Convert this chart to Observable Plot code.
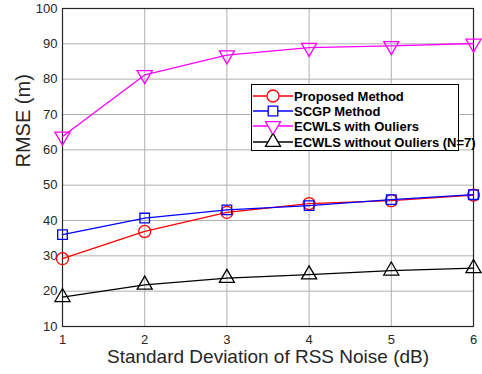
<!DOCTYPE html>
<html><head><meta charset="utf-8">
<script src="https://cdn.jsdelivr.net/npm/d3@7"></script>
<script src="https://cdn.jsdelivr.net/npm/@observablehq/plot@0.6"></script>
<style>
body{margin:0;background:#fff;}
#wrap{position:relative;width:482px;height:374px;font-family:"Liberation Sans",Arial,sans-serif;}
#legend{position:absolute;left:251px;top:84px;width:206px;height:65px;border:1px solid #000;background:#fff;padding:0;overflow:visible;}
.row{position:absolute;left:0;height:16px;display:flex;align-items:center;white-space:nowrap;}
.row span{font-weight:bold;font-size:13px;letter-spacing:0px;color:#000;margin-left:1px;white-space:nowrap;}
</style></head>
<body><div id="wrap"></div>
<script>
const xValues = [1, 2, 3, 4, 5, 6];
const yTicks = [10, 20, 30, 40, 50, 60, 70, 80, 90, 100];
const seriesNames = ["Proposed Method", "SCGP Method", "ECWLS with Ouliers", "ECWLS without Ouliers (N=7)"];
const proposed = [29.2, 36.9, 42.3, 44.8, 45.6, 47.2];
const scgp = [36.0, 40.7, 43.0, 44.2, 45.9, 47.3];
const ecwlsWith = [63.8, 81.2, 86.8, 88.9, 89.4, 90.1];
const ecwlsWithout = [18.3, 21.8, 23.7, 24.7, 25.8, 26.5];
const colors = ["#ff0000", "#0000ff", "#ff00ff", "#000000"];

const sqrt3 = Math.sqrt(3);
const triangleDown = {draw(context, size){const y = -Math.sqrt(size/(sqrt3*3)); context.moveTo(0, -y*2); context.lineTo(-sqrt3*y, y); context.lineTo(sqrt3*y, y); context.closePath();}};
const symbols = ["circle", "square", triangleDown, "triangle"];
const radii = [6, 5.4, 5.6, 5.6];

const allValues = [proposed, scgp, ecwlsWith, ecwlsWithout];
const rows = [];
allValues.forEach((vals, i) => vals.forEach((v, j) => rows.push({series: seriesNames[i], idx: i, x: xValues[j], y: v})));

const marks = [
  Plot.gridX(xValues, {stroke: "#b0b0b0", strokeOpacity: 1, strokeWidth: 1}),
  Plot.gridY(yTicks, {stroke: "#b0b0b0", strokeOpacity: 1, strokeWidth: 1}),
  Plot.frame({stroke: "#262626", strokeWidth: 1.2}),
  Plot.axisX(xValues, {tickSize: 0, tickPadding: 8, fontSize: 13, fill: "#262626", tickFormat: d => String(d), label: null}),
  Plot.axisY(yTicks, {tickSize: 0, tickPadding: 5, fontSize: 13, fill: "#262626", label: null}),
  Plot.text(["Standard Deviation of RSS Noise (dB)"], {frameAnchor: "bottom", dy: 36, fontSize: 19, fill: "#262626"}),
  Plot.text(["RMSE (m)"], {frameAnchor: "left", dx: -39, rotate: -90, fontSize: 20, fill: "#262626"})
];
seriesNames.forEach((name, i) => {
  const d = rows.filter(r => r.idx === i);
  marks.push(Plot.line(d, {x: "x", y: "y", stroke: colors[i], strokeWidth: 1.3}));
  marks.push(Plot.dot(d, {x: "x", y: "y", stroke: colors[i], strokeWidth: 1.3, fill: "none", symbol: symbols[i], r: radii[i]}));
});

const chart = Plot.plot({
  width: 482, height: 374,
  marginLeft: 62, marginRight: 9, marginTop: 8, marginBottom: 48,
  style: {fontFamily: '"Liberation Sans", Arial, sans-serif', background: "#fff"},
  x: {domain: [1, 6]},
  y: {domain: [10, 100]},
  marks
});
const wrap = document.getElementById("wrap");
wrap.appendChild(chart);

// legend
const legend = document.createElement("div");
legend.id = "legend";
const rowTops = [3, 18, 33, 49];
seriesNames.forEach((name, i) => {
  const row = document.createElement("div");
  row.className = "row";
  row.style.top = rowTops[i] + "px";
  const s = d3.create("svg").attr("width", 41).attr("height", 16);
  s.append("line").attr("x1", 1).attr("x2", 41).attr("y1", 8).attr("y2", 8).attr("stroke", colors[i]).attr("stroke-width", 1.3);
  const sym = typeof symbols[i] === "string" ? (symbols[i] === "circle" ? d3.symbolCircle : symbols[i] === "square" ? d3.symbolSquare : d3.symbolTriangle) : symbols[i];
  s.append("path").attr("transform", "translate(21,8)").attr("d", d3.symbol(sym, Math.PI * radii[i] * radii[i])()).attr("fill", "white").attr("stroke", colors[i]).attr("stroke-width", 1.3);
  row.appendChild(s.node());
  const t = document.createElement("span");
  t.textContent = name;
  row.appendChild(t);
  legend.appendChild(row);
});
wrap.appendChild(legend);
</script></body></html>
